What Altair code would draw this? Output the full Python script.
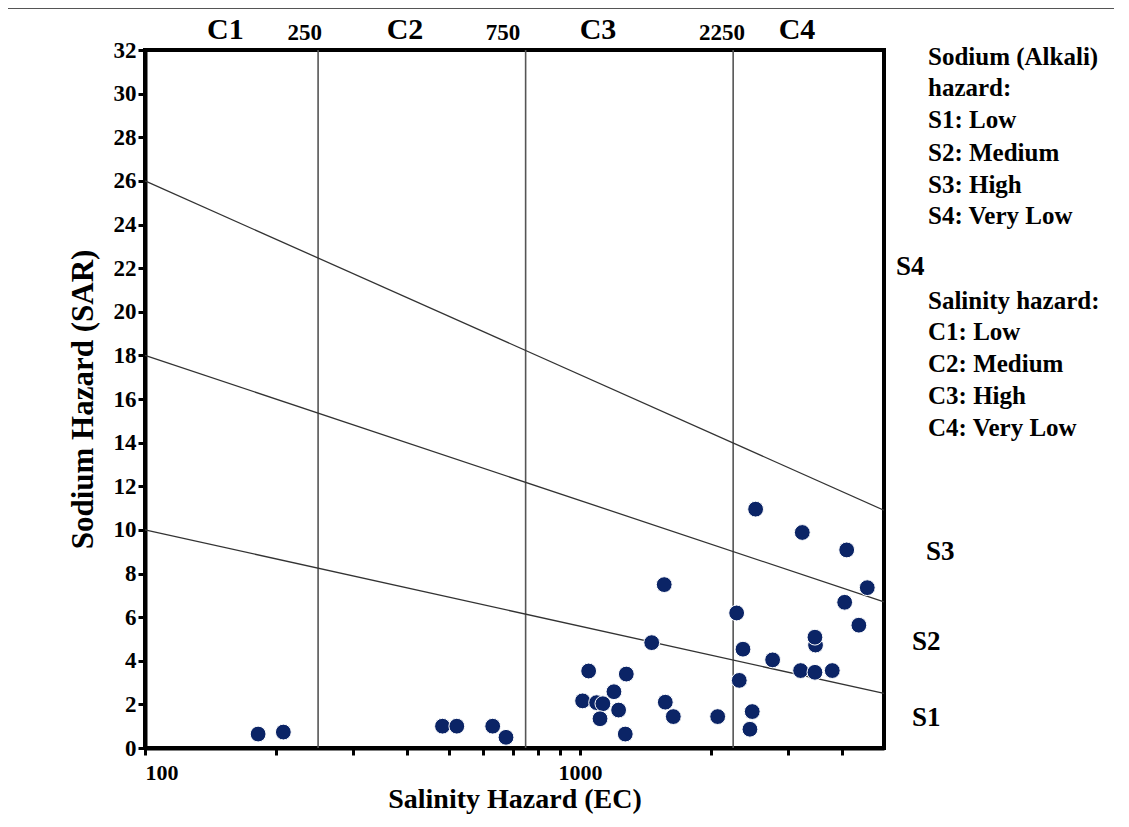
import altair as alt
import pandas as pd

# ---- data ----
ec = [182, 208, 483, 521, 630, 676, 1014, 1092, 1129, 1112, 1197, 1227, 1271,
      1047, 1278, 1462, 1562, 1571, 1639, 2073, 2292, 2324, 2370, 2459, 2489,
      2534, 2773, 3216, 3244, 3469, 3480, 3469, 3802, 4060, 4104, 4377, 4576]
sar = [0.64, 0.73, 1.0, 1.0, 1.0, 0.49, 2.16, 2.08, 2.03, 1.34, 2.58, 1.74, 0.64,
       3.53, 3.39, 4.83, 7.49, 2.1, 1.44, 1.44, 6.19, 3.1, 4.53, 0.86, 1.67,
       10.95, 4.04, 3.55, 9.88, 3.47, 4.72, 5.08, 3.55, 6.68, 9.08, 5.63, 7.35]

class_bounds = [250, 750, 2250]

line_ids = ["S1/S2", "S1/S2", "S2/S3", "S2/S3", "S3/S4", "S3/S4"]
line_ec = [100, 5000, 100, 5000, 100, 5000]
line_sar = [10, 2.5, 18, 6.7, 26, 10.9]

c_labels = ["C1", "C2", "C3", "C4"]
c_label_ec = [153, 396, 1100, 3155]
b_labels = ["250", "750", "2250"]
b_label_ec = [233, 665, 2121]

s_labels = ["S1", "S2", "S3"]
s_label_sar = [1.38, 4.86, 9.0]
s_label_x = [767, 767, 781]

legend_lines = ["Sodium (Alkali)", "hazard:", "S1: Low", "S2: Medium", "S3: High",
                "S4: Very Low", "Salinity hazard:", "C1: Low", "C2: Medium",
                "C3: High", "C4: Very Low"]
legend_y = [7, 38, 70, 103, 135, 166, 251, 282, 314, 346, 378]

x_ticks = [100, 200, 300, 400, 500, 600, 700, 800, 900, 1000, 2000, 3000, 4000]
y_ticks = list(range(0, 34, 2))

FONT = "Liberation Serif"

xscale = alt.Scale(type="log", domain=[100, 5000], nice=False)
yscale = alt.Scale(domain=[0, 32], nice=False)

pts = pd.DataFrame({"EC": ec, "SAR": sar})
lines = pd.DataFrame({"id": line_ids, "EC": line_ec, "SAR": line_sar})
bounds = pd.DataFrame({"EC": class_bounds})
ctext = pd.DataFrame({"t": c_labels, "EC": c_label_ec})
btext = pd.DataFrame({"t": b_labels, "EC": b_label_ec})
stext = pd.DataFrame({"t": s_labels, "SAR": s_label_sar, "px": s_label_x})
legend = pd.DataFrame({"t": legend_lines, "py": legend_y})

x_axis = alt.Axis(
    values=x_ticks,
    labelExpr="datum.value == 100 ? '100' : (datum.value == 1000 ? '1000' : '')",
    title="Salinity Hazard (EC)", grid=False, tickSize=7, tickWidth=3,
    tickColor="black", domainColor="black", domainWidth=4,
    labelFont=FONT, labelFontWeight="bold", labelFontSize=22, labelColor="black",
    labelPadding=7, titleFont=FONT, titleFontWeight="bold", titleFontSize=28,
    titleColor="black", titlePadding=2,
)
y_axis = alt.Axis(
    values=y_ticks, title="Sodium Hazard (SAR)", grid=False, tickSize=7,
    tickWidth=3, tickColor="black", domainColor="black", domainWidth=4,
    labelFont=FONT, labelFontWeight="bold", labelFontSize=23, labelColor="black",
    labelPadding=2, titleFont=FONT, titleFontWeight="bold", titleFontSize=31,
    titleColor="black", titlePadding=14,
)

base_rules = alt.Chart(bounds).mark_rule(color="#555555", strokeWidth=1.6).encode(
    x=alt.X("EC:Q", scale=xscale, axis=x_axis)
)

diag = alt.Chart(lines).mark_line(color="#333333", strokeWidth=1.3).encode(
    x=alt.X("EC:Q", scale=xscale),
    y=alt.Y("SAR:Q", scale=yscale, axis=y_axis),
    detail="id:N",
)

scatter = alt.Chart(pts).mark_circle(
    size=250, color="#0b2466", opacity=1, stroke="white", strokeWidth=1
).encode(
    x=alt.X("EC:Q", scale=xscale),
    y=alt.Y("SAR:Q", scale=yscale),
)

ctop = alt.Chart(ctext).mark_text(
    font=FONT, fontWeight="bold", fontSize=30, color="black", baseline="middle"
).encode(x=alt.X("EC:Q", scale=xscale), y=alt.value(-20), text="t:N")

btop = alt.Chart(btext).mark_text(
    font=FONT, fontWeight="bold", fontSize=23, color="black", baseline="middle"
).encode(x=alt.X("EC:Q", scale=xscale), y=alt.value(-17), text="t:N")

sright = alt.Chart(stext).mark_text(
    font=FONT, fontWeight="bold", fontSize=27, color="black", baseline="middle",
    align="left"
).encode(x=alt.X("px:Q", scale=None), y=alt.Y("SAR:Q", scale=yscale), text="t:N")

s4 = alt.Chart(pd.DataFrame({"t": ["S4"]})).mark_text(
    font=FONT, fontWeight="bold", fontSize=27, color="black", baseline="middle",
    align="left"
).encode(x=alt.value(751), y=alt.value(217), text="t:N")

leg = alt.Chart(legend).mark_text(
    font=FONT, fontWeight="bold", fontSize=25, color="black", baseline="middle",
    align="left"
).encode(x=alt.value(783), y=alt.Y("py:Q", scale=None), text="t:N")

frame_top = alt.Chart(pd.DataFrame({"k": [0]})).mark_rule(
    color="#555555", strokeWidth=2
).encode(x=alt.value(-138), x2=alt.value(990), y=alt.value(-42))
frame_left = alt.Chart(pd.DataFrame({"k": [0]})).mark_rule(
    color="#555555", strokeWidth=2
).encode(x=alt.value(-138), y=alt.value(-42), y2=alt.value(780))

chart = alt.layer(
    base_rules, diag, scatter, ctop, btop, sright, s4, leg, frame_top, frame_left
).properties(
    width=739, height=698,
    background="white",
    autosize=alt.AutoSizeParams(type="none"),
    padding={"left": 137, "top": 42, "right": 230, "bottom": 71},
).configure_view(stroke="black", strokeWidth=4)

chart.save("out.html", embed_options={"renderer": "svg", "actions": False})
